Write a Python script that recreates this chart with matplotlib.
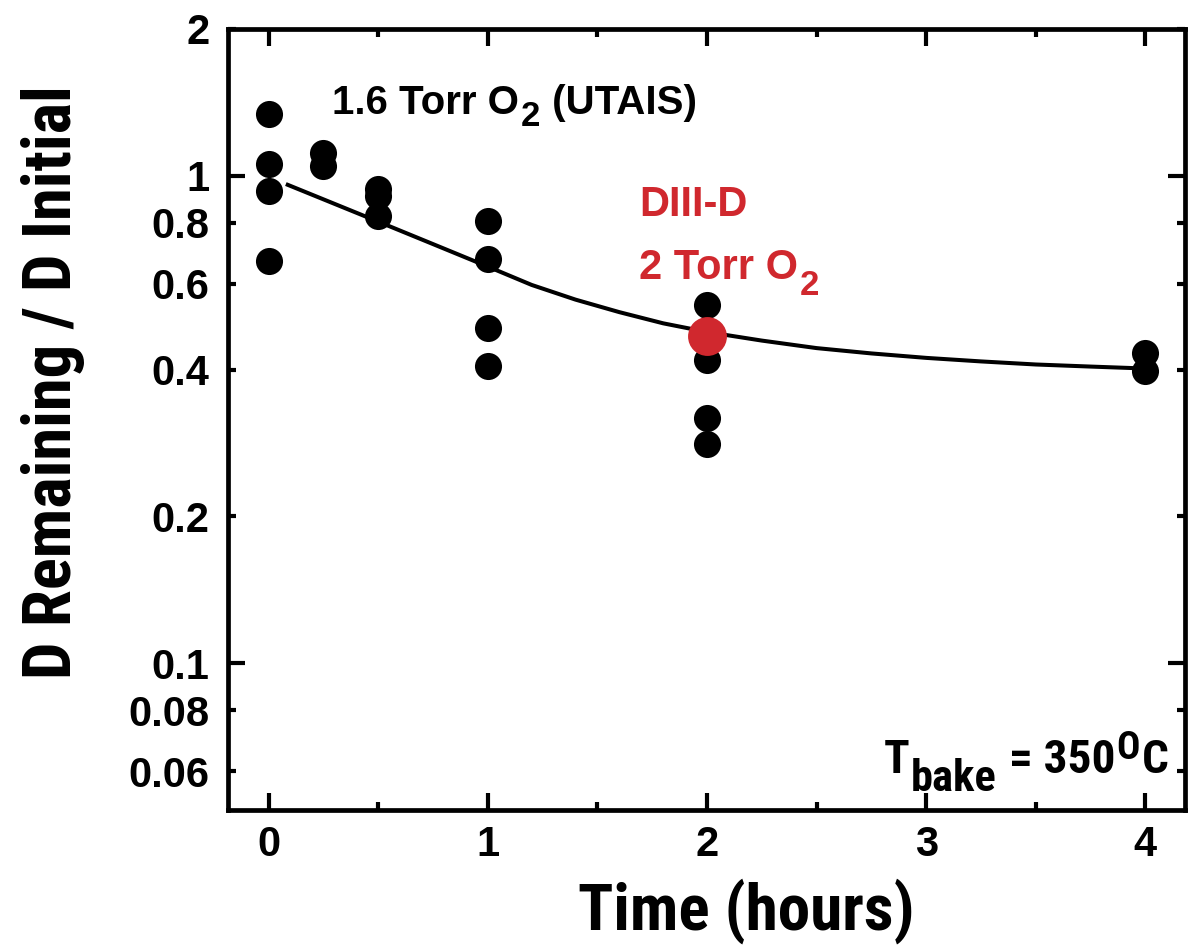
import matplotlib
matplotlib.use('Agg')
import matplotlib.pyplot as plt
import matplotlib.ticker as mticker
from matplotlib import font_manager

# UTAIS samples baked in 1.6 Torr O2
time_hours = [0, 0, 0, 0, 0.25, 0.25, 0.5, 0.5, 0.5, 1, 1, 1, 1, 2, 2, 2, 2, 4, 4]
d_fraction = [1.34, 1.058, 0.932, 0.67, 1.115, 1.048, 0.94, 0.91, 0.828,
              0.809, 0.676, 0.486, 0.408, 0.542, 0.418, 0.319, 0.282, 0.432, 0.398]

# DIII-D tile, 2 Torr O2
diiid_time = [2]
diiid_fraction = [0.47]

# trend line
fit_time = [0.087, 0.5, 0.75, 1.0, 1.2, 1.4, 1.6, 1.8, 2.0, 2.25, 2.5, 2.75,
            3.0, 3.25, 3.5, 3.75, 3.95]
fit_fraction = [0.958, 0.805, 0.724, 0.651, 0.597, 0.557, 0.525, 0.498, 0.478, 0.459,
                0.443, 0.432, 0.423, 0.416, 0.410, 0.406, 0.403]

xtick_major = [0, 1, 2, 3, 4]
xtick_minor = [0.5, 1.5, 2.5, 3.5]
ytick_major = [0.1, 1]
ytick_minor = [0.06, 0.08, 0.2, 0.4, 0.6, 0.8, 2]

RED = '#d0282e'


def bold_font(candidates):
    names = {f.name for f in font_manager.fontManager.ttflist}
    for cand in candidates:
        if cand in names:
            return font_manager.FontProperties(
                fname=font_manager.findfont(font_manager.FontProperties(family=cand, weight='bold')))
    return font_manager.FontProperties(family='DejaVu Sans', weight='bold')


NARROW = bold_font(['Roboto Condensed', 'Liberation Sans Narrow', 'Liberation Sans'])
WIDE = bold_font(['Liberation Sans', 'Roboto'])

fig = plt.figure(figsize=(11.92, 9.47), dpi=100)
ax = fig.add_axes([0.191, 0.1447, 0.803, 0.8247])

ax.plot(fit_time, fit_fraction, '-', color='black', lw=2.9, zorder=2)
ax.plot(time_hours, d_fraction, 'o', color='black', ms=19.5, mec='none', zorder=3)
ax.plot(diiid_time, diiid_fraction, 'o', color=RED, ms=28, mec='none', zorder=4)

ax.set_yscale('log')
ax.set_xlim(-0.187, 4.18)
ax.set_ylim(0.05, 2)

ax.xaxis.set_major_locator(mticker.FixedLocator(xtick_major))
ax.xaxis.set_minor_locator(mticker.FixedLocator(xtick_minor))
ax.xaxis.set_major_formatter(mticker.FixedFormatter([str(v) for v in xtick_major]))
ax.xaxis.set_minor_formatter(mticker.NullFormatter())
ax.yaxis.set_major_locator(mticker.FixedLocator(ytick_major))
ax.yaxis.set_minor_locator(mticker.FixedLocator(ytick_minor))
ax.yaxis.set_major_formatter(mticker.FixedFormatter([f'{v:g}' for v in ytick_major]))
ax.yaxis.set_minor_formatter(mticker.FixedFormatter([f'{v:g}' for v in ytick_minor]))

for s in ax.spines.values():
    s.set_linewidth(3.4)
ax.tick_params(which='both', direction='in', top=True, right=True, width=3)
ax.tick_params(axis='x', which='both', pad=11)
ax.tick_params(axis='y', which='both', pad=13)
ax.tick_params(which='major', length=12)
ax.tick_params(which='minor', length=6)
for lab in (ax.get_xticklabels() + ax.get_yticklabels(minor=True) + ax.get_yticklabels()):
    lab.set_fontproperties(WIDE)
    lab.set_fontsize(30)

ax.set_xlabel('Time (hours)', fontproperties=NARROW, fontsize=47)
ax.set_ylabel('D Remaining / D Initial', fontproperties=NARROW, fontsize=48)
ax.xaxis.set_label_coords(0.542, -0.088)
ax.yaxis.set_label_coords(-0.149, 0.548)


def chain(parts, x, y, font, color='black', align='left'):
    # parts: (text, size in pt, baseline shift in pt); every piece shares the data baseline
    seq = parts if align == 'left' else parts[::-1]
    prev = None
    for txt, size, shift in seq:
        if prev is None:
            xy, coords, dx = (x, y), 'data', 0
        else:
            xy, coords = ((1, y), (prev, 'data')) if align == 'left' else ((0, y), (prev, 'data'))
            dx = 1 if align == 'left' else -1
        prev = ax.annotate(txt, xy=xy, xycoords=coords, xytext=(dx, shift),
                           textcoords='offset points', fontproperties=font, fontsize=size,
                           color=color, ha=align, va='baseline')
    return prev


chain([('1.6 Torr O', 29, 0), ('2', 25, -9), (' (UTAIS)', 29, 0)], 0.29, 1.34, WIDE)
chain([('DIII-D', 30, 0)], 1.69, 0.828, WIDE, RED)
chain([('2 Torr O', 30, 0), ('2', 25, -12)], 1.69, 0.615, WIDE, RED)
chain([('T', 34, 0), ('bake', 32, -13), (' = 350', 34, 0), ('O', 28, 10), ('C', 34, 0)],
      4.105, 0.0595, NARROW, align='right')

fig.savefig('out.png', dpi=100)
